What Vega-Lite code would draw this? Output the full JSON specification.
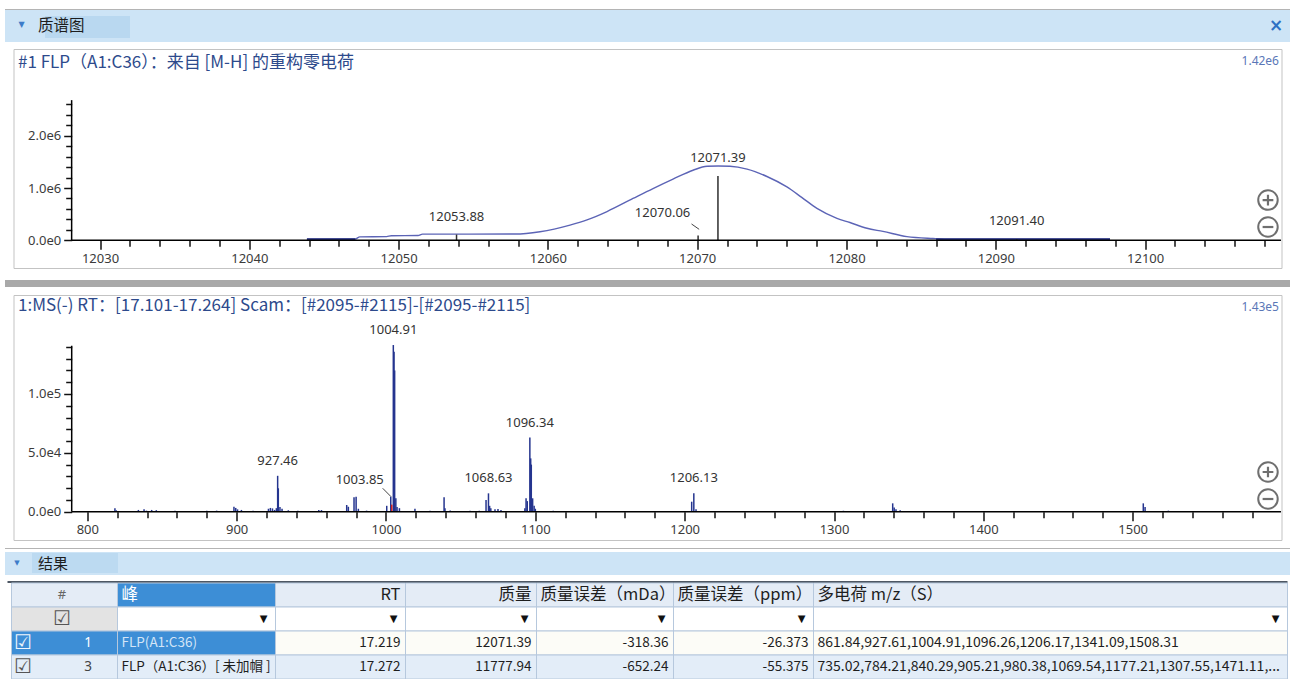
{
  "$schema": "https://vega.github.io/schema/vega-lite/v6.json",
  "padding": {"left": 5, "top": 9, "right": 0, "bottom": 0},
  "background": "#ffffff",
  "spacing": 0,
  "center": true,
  "bounds": "flush",
  "config": {"view": {"stroke": null}, "font": "Noto Sans"},
  "datasets": {
    "profile": [
      {"m": 12043.86, "i": 20000}, {"m": 12047.1, "i": 25000}, {"m": 12047.4, "i": 65000}, {"m": 12049.2, "i": 70000},
      {"m": 12049.5, "i": 88000}, {"m": 12051.3, "i": 92000}, {"m": 12051.6, "i": 118000}, {"m": 12057.8, "i": 120000},
      {"m": 12059.47, "i": 164000}, {"m": 12061.48, "i": 290000}, {"m": 12062.62, "i": 390000}, {"m": 12063.96, "i": 550000},
      {"m": 12065.7, "i": 800000}, {"m": 12067.04, "i": 990000}, {"m": 12068.38, "i": 1170000}, {"m": 12069.72, "i": 1340000},
      {"m": 12070.66, "i": 1415000}, {"m": 12071.4, "i": 1420000}, {"m": 12072.2, "i": 1415000}, {"m": 12073.34, "i": 1360000},
      {"m": 12074.67, "i": 1220000}, {"m": 12076.01, "i": 1020000}, {"m": 12077.0, "i": 820000}, {"m": 12078.02, "i": 610000},
      {"m": 12079.36, "i": 420000}, {"m": 12080.23, "i": 340000}, {"m": 12081.37, "i": 230000}, {"m": 12082.44, "i": 170000},
      {"m": 12084.05, "i": 70000}, {"m": 12085.79, "i": 35000}, {"m": 12087.0, "i": 22000}, {"m": 12097.65, "i": 22000}
    ],
    "profile_base": [
      {"seg": "a", "m": 12043.86, "i": 20000}, {"seg": "a", "m": 12047.1, "i": 22000},
      {"seg": "b", "m": 12086.0, "i": 20000}, {"seg": "b", "m": 12097.65, "i": 20000}
    ],
    "deconv_peaks": [
      {"m": 12053.88, "i": 110000, "label": "12053.88"},
      {"m": 12070.06, "i": 90000, "label": ""},
      {"m": 12071.39, "i": 1230000, "label": "12071.39"},
      {"m": 12091.40, "i": 25000, "label": "12091.40"}
    ],
    "callouts1": [{"label": "12070.06", "m": 12069.62, "i": 312000, "m2": 12070.13, "i2": 210000}],
    "ms": [
      {"m": 818.5, "i": 2900, "label": ""}, {"m": 819.4, "i": 1200, "label": ""}, {"m": 834.2, "i": 1500, "label": ""},
      {"m": 838.0, "i": 2000, "label": ""}, {"m": 839.6, "i": 900, "label": ""}, {"m": 843.1, "i": 1500, "label": ""},
      {"m": 846.2, "i": 1300, "label": ""}, {"m": 858.7, "i": 900, "label": ""}, {"m": 880.0, "i": 800, "label": ""},
      {"m": 886.6, "i": 900, "label": ""}, {"m": 898.2, "i": 4300, "label": ""}, {"m": 899.4, "i": 3200, "label": ""},
      {"m": 900.6, "i": 2000, "label": ""}, {"m": 903.2, "i": 1500, "label": ""}, {"m": 911.0, "i": 800, "label": ""},
      {"m": 921.3, "i": 2500, "label": ""}, {"m": 922.6, "i": 3200, "label": ""}, {"m": 924.0, "i": 2800, "label": ""},
      {"m": 925.4, "i": 1500, "label": ""}, {"m": 926.6, "i": 3000, "label": ""}, {"m": 927.46, "i": 30500, "label": "927.46"},
      {"m": 927.9, "i": 19900, "label": ""}, {"m": 929.0, "i": 4000, "label": ""}, {"m": 930.4, "i": 2500, "label": ""},
      {"m": 934.6, "i": 1200, "label": ""}, {"m": 941.0, "i": 900, "label": ""}, {"m": 955.0, "i": 1400, "label": ""},
      {"m": 956.8, "i": 1400, "label": ""}, {"m": 973.7, "i": 5700, "label": ""}, {"m": 974.8, "i": 4200, "label": ""},
      {"m": 978.6, "i": 12200, "label": ""}, {"m": 980.0, "i": 12700, "label": ""}, {"m": 981.5, "i": 2500, "label": ""},
      {"m": 987.0, "i": 900, "label": ""}, {"m": 1000.5, "i": 5000, "label": ""}, {"m": 1003.2, "i": 12700, "label": ""},
      {"m": 1004.91, "i": 141600, "label": "1004.91"}, {"m": 1005.4, "i": 136000, "label": ""}, {"m": 1005.8, "i": 120000, "label": ""},
      {"m": 1006.6, "i": 11500, "label": ""}, {"m": 1007.4, "i": 4000, "label": ""}, {"m": 1009.0, "i": 3000, "label": ""},
      {"m": 1019.4, "i": 2500, "label": ""}, {"m": 1029.5, "i": 800, "label": ""}, {"m": 1038.9, "i": 12200, "label": ""},
      {"m": 1039.5, "i": 3000, "label": ""}, {"m": 1043.0, "i": 1000, "label": ""}, {"m": 1056.3, "i": 800, "label": ""},
      {"m": 1062.5, "i": 800, "label": ""}, {"m": 1067.0, "i": 10000, "label": ""}, {"m": 1068.63, "i": 15600, "label": "1068.63"},
      {"m": 1069.4, "i": 5000, "label": ""}, {"m": 1070.2, "i": 3000, "label": ""}, {"m": 1073.0, "i": 2000, "label": ""},
      {"m": 1075.0, "i": 2200, "label": ""}, {"m": 1077.0, "i": 1500, "label": ""}, {"m": 1093.0, "i": 3000, "label": ""},
      {"m": 1093.8, "i": 11500, "label": ""}, {"m": 1094.6, "i": 9000, "label": ""}, {"m": 1096.34, "i": 63000, "label": "1096.34"},
      {"m": 1096.9, "i": 45300, "label": ""}, {"m": 1097.3, "i": 40000, "label": ""}, {"m": 1098.2, "i": 11400, "label": ""},
      {"m": 1099.2, "i": 5000, "label": ""}, {"m": 1100.0, "i": 2500, "label": ""}, {"m": 1112.0, "i": 800, "label": ""},
      {"m": 1161.2, "i": 600, "label": ""}, {"m": 1204.7, "i": 8500, "label": ""}, {"m": 1206.13, "i": 15600, "label": "1206.13"},
      {"m": 1207.6, "i": 2000, "label": ""}, {"m": 1306.3, "i": 800, "label": ""}, {"m": 1339.3, "i": 7100, "label": ""},
      {"m": 1340.3, "i": 3500, "label": ""}, {"m": 1341.5, "i": 2000, "label": ""}, {"m": 1344.3, "i": 1200, "label": ""},
      {"m": 1507.1, "i": 7100, "label": ""}, {"m": 1508.3, "i": 4000, "label": ""}, {"m": 1523.9, "i": 900, "label": ""}
    ],
    "ms_selected": [{"m": 1003.85, "i": 6000}],
    "callouts2": [{"label": "1003.85", "m": 997.8, "i": 19900, "m2": 1003.4, "i2": 12740}],
    "cols": [
      {"col": "idx", "x0": 4, "x1": 110}, {"col": "peak", "x0": 110, "x1": 268}, {"col": "rt", "x0": 268, "x1": 398},
      {"col": "mass", "x0": 398, "x1": 529}, {"col": "mda", "x0": 529, "x1": 666}, {"col": "ppm", "x0": 666, "x1": 806},
      {"col": "mz", "x0": 806, "x1": 1280}
    ],
    "table": [
      {"r": "h", "idx": "#", "peak": "峰", "rt": "RT", "mass": "质量", "mda": "质量误差（mDa）", "ppm": "质量误差（ppm）", "mz": "多电荷 m/z（S）"},
      {"r": "f", "idx": "", "peak": "", "rt": "", "mass": "", "mda": "", "ppm": "", "mz": ""},
      {"r": "r1", "idx": "1", "peak": "FLP(A1:C36)", "rt": "17.219", "mass": "12071.39", "mda": "-318.36", "ppm": "-26.373", "mz": "861.84,927.61,1004.91,1096.26,1206.17,1341.09,1508.31"},
      {"r": "r2", "idx": "3", "peak": "FLP（A1:C36）[ 未加帽 ]", "rt": "17.272", "mass": "11777.94", "mda": "-652.24", "ppm": "-55.375", "mz": "735.02,784.21,840.29,905.21,980.38,1069.54,1177.21,1307.55,1471.11,..."}
    ]
  },
  "vconcat": [
    {"width": 1285, "height": 1, "view": {"fill": "#b4b4b4", "stroke": null}, "data": {"values": [{"t": ""}]}, "mark": {"type": "text", "fontSize": 0}, "encoding": {"text": {"field": "t"}}},
    {
      "width": 1285, "height": 32,
      "view": {"fill": "#cde4f6", "stroke": null},
      "data": {"values": [{}]},
      "layer": [
        {"mark": {"type": "rect", "color": "#b9d8f0"},
         "encoding": {
           "x": {"datum": 40, "type": "quantitative", "scale": {"domain": [0, 1285], "nice": false, "zero": false}, "axis": null},
           "x2": {"datum": 125},
           "y": {"datum": 4, "type": "quantitative", "scale": {"domain": [0, 32], "nice": false, "zero": false}, "axis": null},
           "y2": {"datum": 26}}},
        {"mark": {"type": "text", "text": "▼", "fontSize": 8, "color": "#3d7cc9", "font": "DejaVu Sans"},
         "encoding": {"x": {"datum": 16.5, "type": "quantitative"}, "y": {"datum": 17, "type": "quantitative"}}},
        {"mark": {"type": "text", "text": "质谱图", "align": "left", "baseline": "middle", "fontSize": 15.5, "color": "#1d1d1d", "font": "Noto Sans CJK SC"},
         "encoding": {"x": {"datum": 33, "type": "quantitative"}, "y": {"datum": 16, "type": "quantitative"}}},
        {"mark": {"type": "text", "text": "×", "align": "center", "baseline": "middle", "fontSize": 17, "fontWeight": "bold", "color": "#2f70c4", "font": "DejaVu Sans"},
         "encoding": {"x": {"datum": 1271, "type": "quantitative"}, "y": {"datum": 16, "type": "quantitative"}}}
      ]
    },
    {"width": 1, "height": 7, "data": {"values": [{"t": ""}]}, "mark": {"type": "text", "fontSize": 0}, "encoding": {"text": {"field": "t"}}},
    {
      "width": 1268, "height": 219,
      "view": {"fill": "#ffffff", "stroke": "#c3c3c3", "strokeWidth": 1},
      "title": {"text": "#1 FLP（A1:C36）：来自 [M-H] 的重构零电荷", "anchor": "start", "frame": "group", "orient": "top", "offset": -31, "baseline": "middle", "dx": 4.5, "font": "Noto Sans CJK SC", "fontSize": 17, "fontWeight": "normal", "color": "#2d4a8c"},
      "layer": [
        {
          "data": {"name": "profile"},
          "mark": {"type": "line", "color": "#5c64b6", "strokeWidth": 1.4, "interpolate": "monotone"},
          "encoding": {
            "x": {"field": "m", "type": "quantitative", "title": null,
                  "scale": {"domain": [12024.206, 12109.136], "nice": false, "zero": false},
                  "axis": {"orient": "bottom", "offset": -27.7, "domain": false, "grid": false, "tickCount": 1000,
                           "values": [12030,12032,12034,12036,12038,12040,12042,12044,12046,12048,12050,12052,12054,12056,12058,12060,12062,12064,12066,12068,12070,12072,12074,12076,12078,12080,12082,12084,12086,12088,12090,12092,12094,12096,12098,12100,12102,12104,12106,12108],
                           "format": "d", "labelExpr": "datum.value % 10 === 0 ? datum.label : ''",
                           "tickSize": {"condition": {"test": "datum.value % 10 === 0", "value": 9}, "value": 6},
                           "tickColor": "#111111", "tickWidth": 1.5, "labelFont": "Noto Sans", "labelFontSize": 13,
                           "labelColor": "#3b3b3b", "labelPadding": 3, "labelOverlap": false, "labelFlush": false, "labelBound": false, "title": null}},
            "y": {"field": "i", "type": "quantitative", "title": null,
                  "scale": {"domain": [-529600, 3657700], "nice": false, "zero": false},
                  "axis": {"orient": "left", "offset": -58.2, "domain": false, "grid": false, "tickCount": 1000,
                           "values": [0,200000,400000,600000,800000,1000000,1200000,1400000,1600000,1800000,2000000,2200000,2400000,2600000],
                           "labelExpr": "datum.value === 0 ? '0.0e0' : (datum.value % 1000000 === 0 ? format(datum.value / 1000000, '.1f') + 'e6' : '')",
                           "tickSize": {"condition": {"test": "datum.value % 1000000 === 0", "value": 8}, "value": 6},
                           "tickColor": "#111111", "tickWidth": 1.5, "labelFont": "Noto Sans", "labelFontSize": 13,
                           "labelColor": "#3b3b3b", "labelPadding": 3, "labelOverlap": false, "labelBound": false, "title": null}}
          }
        },
        {
          "data": {"name": "profile_base"},
          "mark": {"type": "line", "color": "#27317e", "strokeWidth": 2},
          "encoding": {"x": {"field": "m", "type": "quantitative", "title": null}, "y": {"field": "i", "type": "quantitative", "title": null}, "detail": {"field": "seg", "type": "nominal"}}
        },
        {
          "data": {"name": "deconv_peaks"},
          "mark": {"type": "rule", "color": "#2e2e2e", "strokeWidth": 1.5},
          "encoding": {"x": {"field": "m", "type": "quantitative", "title": null}, "y": {"field": "i", "type": "quantitative", "title": null}, "y2": {"datum": 0}}
        },
        {
          "data": {"name": "deconv_peaks"},
          "transform": [{"filter": "datum.label !== ''"}],
          "mark": {"type": "text", "dy": -18, "fontSize": 13, "color": "#333333", "baseline": "middle", "align": "center", "font": "Noto Sans"},
          "encoding": {"x": {"field": "m", "type": "quantitative", "title": null}, "y": {"field": "i", "type": "quantitative", "title": null}, "text": {"field": "label", "type": "nominal"}}
        },
        {
          "data": {"name": "callouts1"},
          "mark": {"type": "rule", "color": "#444444", "strokeWidth": 1},
          "encoding": {"x": {"field": "m", "type": "quantitative", "title": null}, "y": {"field": "i", "type": "quantitative", "title": null}, "x2": {"field": "m2"}, "y2": {"field": "i2"}}
        },
        {
          "data": {"name": "callouts1"},
          "mark": {"type": "text", "dx": -29, "dy": -11, "fontSize": 13, "color": "#333333", "baseline": "middle", "align": "center", "font": "Noto Sans"},
          "encoding": {"x": {"field": "m", "type": "quantitative", "title": null}, "y": {"field": "i", "type": "quantitative", "title": null}, "text": {"field": "label", "type": "nominal"}}
        },
        {
          "data": {"values": [{}]},
          "mark": {"type": "rule", "color": "#000000", "strokeWidth": 1.5},
          "encoding": {"x": {"datum": 12028.1, "type": "quantitative"}, "x2": {"datum": 12109.1}, "y": {"datum": 0, "type": "quantitative"}}
        },
        {
          "data": {"values": [{}]},
          "mark": {"type": "rule", "color": "#000000", "strokeWidth": 1.5},
          "encoding": {"x": {"datum": 12028.1, "type": "quantitative"}, "y": {"datum": 0, "type": "quantitative"}, "y2": {"datum": 2680000}}
        },
        {
          "data": {"values": [{"label": "1.42e6"}]},
          "mark": {"type": "text", "align": "right", "baseline": "middle", "dx": -2.5, "dy": 12, "fontSize": 12, "color": "#5a77b7", "font": "Noto Sans"},
          "encoding": {"x": {"datum": 12109.136, "type": "quantitative"}, "y": {"datum": 3657700, "type": "quantitative"}, "text": {"field": "label", "type": "nominal"}}
        },
        {
          "data": {"values": [{}]},
          "mark": {"type": "point", "shape": "circle", "size": 380, "filled": false, "stroke": "#6f6f6f", "strokeWidth": 2, "opacity": 1},
          "encoding": {"x": {"datum": 12108.23, "type": "quantitative"}, "y": {"datum": 770000, "type": "quantitative"}}
        },
        {
          "data": {"values": [{}]},
          "mark": {"type": "point", "shape": "M-0.55,0H0.55M0,-0.55V0.55", "size": 380, "filled": false, "stroke": "#6f6f6f", "strokeWidth": 2.2, "opacity": 1},
          "encoding": {"x": {"datum": 12108.23, "type": "quantitative"}, "y": {"datum": 770000, "type": "quantitative"}}
        },
        {
          "data": {"values": [{}]},
          "mark": {"type": "point", "shape": "circle", "size": 380, "filled": false, "stroke": "#6f6f6f", "strokeWidth": 2, "opacity": 1},
          "encoding": {"x": {"datum": 12108.23, "type": "quantitative"}, "y": {"datum": 254000, "type": "quantitative"}}
        },
        {
          "data": {"values": [{}]},
          "mark": {"type": "point", "shape": "M-0.55,0H0.55", "size": 380, "filled": false, "stroke": "#6f6f6f", "strokeWidth": 2.2, "opacity": 1},
          "encoding": {"x": {"datum": 12108.23, "type": "quantitative"}, "y": {"datum": 254000, "type": "quantitative"}}
        }
      ]
    },
    {"width": 1, "height": 12, "data": {"values": [{"t": ""}]}, "mark": {"type": "text", "fontSize": 0}, "encoding": {"text": {"field": "t"}}},
    {"width": 1285, "height": 7, "view": {"fill": "#a9a9a9", "stroke": null}, "data": {"values": [{"t": ""}]}, "mark": {"type": "text", "fontSize": 0}, "encoding": {"text": {"field": "t"}}},
    {"width": 1, "height": 8, "data": {"values": [{"t": ""}]}, "mark": {"type": "text", "fontSize": 0}, "encoding": {"text": {"field": "t"}}},
    {
      "width": 1268, "height": 245,
      "view": {"fill": "#ffffff", "stroke": "#c3c3c3", "strokeWidth": 1},
      "title": {"text": "1:MS(-) RT：[17.101-17.264] Scam：[#2095-#2115]-[#2095-#2115]", "anchor": "start", "frame": "group", "orient": "top", "offset": -28, "baseline": "middle", "dx": 4.5, "font": "Noto Sans CJK SC", "fontSize": 17, "fontWeight": "normal", "color": "#2d4a8c"},
      "layer": [
        {
          "data": {"name": "ms"},
          "mark": {"type": "rule", "color": "#25358f", "strokeWidth": 1.5},
          "encoding": {
            "x": {"field": "m", "type": "quantitative", "title": null,
                  "scale": {"domain": [750.58, 1599.65], "nice": false, "zero": false},
                  "axis": {"orient": "bottom", "offset": -28.3, "domain": false, "grid": false, "tickCount": 1000,
                           "values": [800,820,840,860,880,900,920,940,960,980,1000,1020,1040,1060,1080,1100,1120,1140,1160,1180,1200,1220,1240,1260,1280,1300,1320,1340,1360,1380,1400,1420,1440,1460,1480,1500,1520,1540,1560,1580,1600],
                           "format": "d", "labelExpr": "datum.value % 100 === 0 && datum.value < 1600 ? datum.label : ''",
                           "tickSize": {"condition": {"test": "datum.value % 100 === 0", "value": 9}, "value": 6},
                           "tickColor": "#111111", "tickWidth": 1.5, "labelFont": "Noto Sans", "labelFontSize": 13,
                           "labelColor": "#3b3b3b", "labelPadding": 3, "labelOverlap": false, "labelFlush": false, "labelBound": false, "title": null}},
            "y": {"field": "i", "type": "quantitative", "title": null,
                  "scale": {"domain": [-24045, 184112], "nice": false, "zero": false},
                  "axis": {"orient": "left", "offset": -58.2, "domain": false, "grid": false, "tickCount": 1000,
                           "values": [0,10000,20000,30000,40000,50000,60000,70000,80000,90000,100000,110000,120000,130000,140000],
                           "labelExpr": "datum.value === 0 ? '0.0e0' : (datum.value === 50000 ? '5.0e4' : (datum.value === 100000 ? '1.0e5' : ''))",
                           "tickSize": {"condition": {"test": "datum.value % 50000 === 0", "value": 8}, "value": 6},
                           "tickColor": "#111111", "tickWidth": 1.5, "labelFont": "Noto Sans", "labelFontSize": 13,
                           "labelColor": "#3b3b3b", "labelPadding": 3, "labelOverlap": false, "labelBound": false, "title": null}},
            "y2": {"datum": 0}
          }
        },
        {
          "data": {"name": "ms_selected"},
          "mark": {"type": "rule", "color": "#d42020", "strokeWidth": 1.5},
          "encoding": {"x": {"field": "m", "type": "quantitative", "title": null}, "y": {"field": "i", "type": "quantitative", "title": null}, "y2": {"datum": 0}}
        },
        {
          "data": {"name": "ms"},
          "transform": [{"filter": "datum.label !== ''"}],
          "mark": {"type": "text", "dy": -15, "fontSize": 13, "color": "#333333", "baseline": "middle", "align": "center", "font": "Noto Sans"},
          "encoding": {"x": {"field": "m", "type": "quantitative", "title": null}, "y": {"field": "i", "type": "quantitative", "title": null}, "text": {"field": "label", "type": "nominal"}}
        },
        {
          "data": {"name": "callouts2"},
          "mark": {"type": "rule", "color": "#444444", "strokeWidth": 1},
          "encoding": {"x": {"field": "m", "type": "quantitative", "title": null}, "y": {"field": "i", "type": "quantitative", "title": null}, "x2": {"field": "m2"}, "y2": {"field": "i2"}}
        },
        {
          "data": {"name": "callouts2"},
          "mark": {"type": "text", "dx": -23, "dy": -8, "fontSize": 13, "color": "#333333", "baseline": "middle", "align": "center", "font": "Noto Sans"},
          "encoding": {"x": {"field": "m", "type": "quantitative", "title": null}, "y": {"field": "i", "type": "quantitative", "title": null}, "text": {"field": "label", "type": "nominal"}}
        },
        {
          "data": {"values": [{}]},
          "mark": {"type": "rule", "color": "#000000", "strokeWidth": 1.5},
          "encoding": {"x": {"datum": 789.55, "type": "quantitative"}, "x2": {"datum": 1599.3}, "y": {"datum": 0, "type": "quantitative"}}
        },
        {
          "data": {"values": [{}]},
          "mark": {"type": "rule", "color": "#000000", "strokeWidth": 1.5},
          "encoding": {"x": {"datum": 789.55, "type": "quantitative"}, "y": {"datum": 0, "type": "quantitative"}, "y2": {"datum": 141000}}
        },
        {
          "data": {"values": [{"label": "1.43e5"}]},
          "mark": {"type": "text", "align": "right", "baseline": "middle", "dx": -2.5, "dy": 12, "fontSize": 12, "color": "#5a77b7", "font": "Noto Sans"},
          "encoding": {"x": {"datum": 1599.65, "type": "quantitative"}, "y": {"datum": 184112, "type": "quantitative"}, "text": {"field": "label", "type": "nominal"}}
        },
        {
          "data": {"values": [{}]},
          "mark": {"type": "point", "shape": "circle", "size": 380, "filled": false, "stroke": "#6f6f6f", "strokeWidth": 2, "opacity": 1},
          "encoding": {"x": {"datum": 1590.6, "type": "quantitative"}, "y": {"datum": 33730, "type": "quantitative"}}
        },
        {
          "data": {"values": [{}]},
          "mark": {"type": "point", "shape": "M-0.55,0H0.55M0,-0.55V0.55", "size": 380, "filled": false, "stroke": "#6f6f6f", "strokeWidth": 2.2, "opacity": 1},
          "encoding": {"x": {"datum": 1590.6, "type": "quantitative"}, "y": {"datum": 33730, "type": "quantitative"}}
        },
        {
          "data": {"values": [{}]},
          "mark": {"type": "point", "shape": "circle", "size": 380, "filled": false, "stroke": "#6f6f6f", "strokeWidth": 2, "opacity": 1},
          "encoding": {"x": {"datum": 1590.6, "type": "quantitative"}, "y": {"datum": 10790, "type": "quantitative"}}
        },
        {
          "data": {"values": [{}]},
          "mark": {"type": "point", "shape": "M-0.55,0H0.55", "size": 380, "filled": false, "stroke": "#6f6f6f", "strokeWidth": 2.2, "opacity": 1},
          "encoding": {"x": {"datum": 1590.6, "type": "quantitative"}, "y": {"datum": 10790, "type": "quantitative"}}
        }
      ]
    },
    {"width": 1, "height": 8, "data": {"values": [{"t": ""}]}, "mark": {"type": "text", "fontSize": 0}, "encoding": {"text": {"field": "t"}}},
    {"width": 1285, "height": 1, "view": {"fill": "#b4b4b4", "stroke": null}, "data": {"values": [{"t": ""}]}, "mark": {"type": "text", "fontSize": 0}, "encoding": {"text": {"field": "t"}}},
    {"width": 1, "height": 3, "data": {"values": [{"t": ""}]}, "mark": {"type": "text", "fontSize": 0}, "encoding": {"text": {"field": "t"}}},
    {
      "width": 1285, "height": 23,
      "view": {"fill": "#cde4f6", "stroke": null},
      "data": {"values": [{}]},
      "layer": [
        {"mark": {"type": "rect", "color": "#bcdaf1"},
         "encoding": {
           "x": {"datum": 27, "type": "quantitative", "scale": {"domain": [0, 1285], "nice": false, "zero": false}, "axis": null},
           "x2": {"datum": 113},
           "y": {"datum": 2, "type": "quantitative", "scale": {"domain": [0, 23], "nice": false, "zero": false}, "axis": null},
           "y2": {"datum": 22}}},
        {"mark": {"type": "text", "text": "▼", "fontSize": 7, "color": "#3d7cc9", "font": "DejaVu Sans"},
         "encoding": {"x": {"datum": 12, "type": "quantitative"}, "y": {"datum": 12.5, "type": "quantitative"}}},
        {"mark": {"type": "text", "text": "结果", "align": "left", "baseline": "middle", "fontSize": 15, "color": "#1d1d1d", "font": "Noto Sans CJK SC"},
         "encoding": {"x": {"datum": 33, "type": "quantitative"}, "y": {"datum": 11.5, "type": "quantitative"}}}
      ]
    },
    {"width": 1, "height": 6, "data": {"values": [{"t": ""}]}, "mark": {"type": "text", "fontSize": 0}, "encoding": {"text": {"field": "t"}}},
    {"width": 1280, "height": 2, "view": {"fill": "#4d5763", "stroke": null}, "data": {"values": [{"t": ""}]}, "mark": {"type": "text", "fontSize": 0}, "encoding": {"text": {"field": "t"}}},
    {
      "width": 1280, "height": 96,
      "data": {"name": "table"},
      "transform": [
        {"fold": ["idx", "peak", "rt", "mass", "mda", "ppm", "mz"], "as": ["col", "text"]},
        {"lookup": "col", "from": {"data": {"name": "cols"}, "key": "col", "fields": ["x0", "x1"]}}
      ],
      "layer": [
        {
          "mark": {"type": "rect", "stroke": "#b6c8dd", "strokeWidth": 1},
          "encoding": {
            "x": {"field": "x0", "type": "quantitative", "title": null, "scale": {"domain": [0, 1280], "nice": false, "zero": false}, "axis": null},
            "x2": {"field": "x1"},
            "y": {"field": "r", "type": "nominal", "title": null, "scale": {"domain": ["h", "f", "r1", "r2"], "paddingInner": 0, "paddingOuter": 0}, "axis": null},
            "fill": {
              "condition": [
                {"test": "(datum.r === 'h' && datum.col === 'peak') || (datum.r === 'r1' && (datum.col === 'idx' || datum.col === 'peak'))", "value": "#3d8ed6"},
                {"test": "datum.r === 'f' && datum.col === 'idx'", "value": "#e3e3e3"}
              ],
              "field": "r", "type": "nominal",
              "scale": {"domain": ["h", "f", "r1", "r2"], "range": ["#e4ecf6", "#ffffff", "#fcfcf7", "#e3edf8"]},
              "legend": null
            }
          }
        },
        {
          "transform": [{"filter": "datum.col === 'peak' || datum.col === 'mz' || (datum.r === 'h' && (datum.col === 'mda' || datum.col === 'ppm'))"}],
          "mark": {"type": "text", "align": "left", "baseline": "middle", "dx": 4, "font": "Noto Sans CJK SC"},
          "encoding": {
            "x": {"field": "x0", "type": "quantitative", "title": null},
            "y": {"field": "r", "type": "nominal", "title": null},
            "text": {"field": "text", "type": "nominal"},
            "size": {"condition": [{"test": "datum.r === 'h'", "value": 16.5}, {"test": "datum.col === 'mz'", "value": 14}], "value": 13.5},
            "color": {"condition": [
              {"test": "datum.r === 'h' && datum.col === 'peak'", "value": "#ffffff"},
              {"test": "datum.r === 'r1' && datum.col === 'peak'", "value": "#d3e5f7"}
            ], "value": "#1e1e1e"}
          }
        },
        {
          "transform": [{"filter": "(datum.col === 'rt' || datum.col === 'mass' || datum.col === 'mda' || datum.col === 'ppm') && !(datum.r === 'h' && (datum.col === 'mda' || datum.col === 'ppm'))"}],
          "mark": {"type": "text", "align": "right", "baseline": "middle", "dx": -5, "font": "Noto Sans CJK SC", "color": "#1e1e1e"},
          "encoding": {
            "x": {"field": "x1", "type": "quantitative", "title": null},
            "y": {"field": "r", "type": "nominal", "title": null},
            "text": {"field": "text", "type": "nominal"},
            "size": {"condition": {"test": "datum.r === 'h'", "value": 16.5}, "value": 13.5}
          }
        },
        {
          "transform": [{"filter": "datum.r === 'h' && datum.col === 'idx'"}],
          "mark": {"type": "text", "align": "center", "baseline": "middle", "dx": 50.5, "fontSize": 13, "color": "#666666", "font": "Noto Sans"},
          "encoding": {"x": {"field": "x0", "type": "quantitative", "title": null}, "y": {"field": "r", "type": "nominal", "title": null}, "text": {"field": "text", "type": "nominal"}}
        },
        {
          "transform": [{"filter": "(datum.r === 'r1' || datum.r === 'r2') && datum.col === 'idx'"}],
          "mark": {"type": "text", "align": "center", "baseline": "middle", "dx": 76.5, "fontSize": 13.5, "font": "Noto Sans"},
          "encoding": {"x": {"field": "x0", "type": "quantitative", "title": null}, "y": {"field": "r", "type": "nominal", "title": null}, "text": {"field": "text", "type": "nominal"},
                       "color": {"condition": {"test": "datum.r === 'r1'", "value": "#ffffff"}, "value": "#444444"}}
        },
        {
          "transform": [{"filter": "datum.r === 'f' && datum.col === 'idx'"}],
          "mark": {"type": "text", "text": "☑", "align": "center", "baseline": "middle", "dx": 50.5, "fontSize": 20, "color": "#555555", "font": "DejaVu Sans"},
          "encoding": {"x": {"field": "x0", "type": "quantitative", "title": null}, "y": {"field": "r", "type": "nominal", "title": null}}
        },
        {
          "transform": [{"filter": "(datum.r === 'r1' || datum.r === 'r2') && datum.col === 'idx'"}],
          "mark": {"type": "text", "text": "☑", "align": "center", "baseline": "middle", "dx": 11.5, "fontSize": 20, "font": "DejaVu Sans"},
          "encoding": {"x": {"field": "x0", "type": "quantitative", "title": null}, "y": {"field": "r", "type": "nominal", "title": null},
                       "color": {"condition": {"test": "datum.r === 'r1'", "value": "#eef5fc"}, "value": "#555555"}}
        },
        {
          "transform": [{"filter": "datum.r === 'f' && datum.col !== 'idx'"}],
          "mark": {"type": "text", "text": "▼", "align": "center", "baseline": "middle", "dx": -12, "fontSize": 10, "color": "#111111", "font": "DejaVu Sans"},
          "encoding": {"x": {"field": "x1", "type": "quantitative", "title": null}, "y": {"field": "r", "type": "nominal", "title": null}}
        }
      ]
    }
  ]
}
